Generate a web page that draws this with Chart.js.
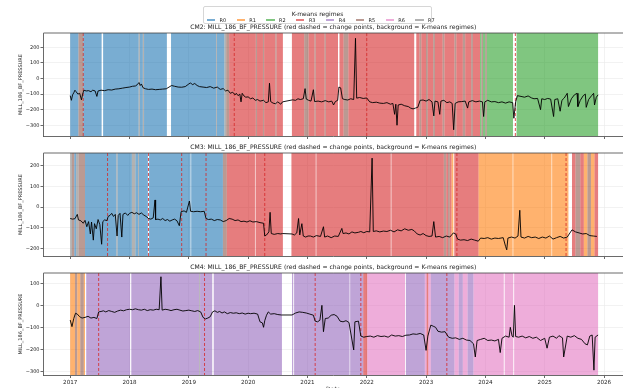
<!DOCTYPE html>
<html><head><meta charset="utf-8">
<script src="https://cdn.jsdelivr.net/npm/chart.js@4.4.1/dist/chart.umd.min.js"></script>
<style>
html,body{margin:0;padding:0;background:#fff;}
#wrap{position:relative;width:623px;height:388px;overflow:hidden;font-family:"DejaVu Sans",sans-serif;}
canvas{position:absolute;left:0;top:0;}
#legend{position:absolute;left:203px;top:6px;width:229px;height:18px;border:1px solid #d6d6d6;border-radius:2px;box-sizing:border-box;background:rgba(255,255,255,0.85);}
#legTitle{position:absolute;left:0;top:3px;width:100%;height:8px;line-height:8px;font-size:6px;text-align:center;color:#222;}
.sw{position:absolute;height:2px;width:8.3px;}
.lab{position:absolute;height:6px;line-height:6px;font-size:5px;color:#222;}
</style></head>
<body><div id="wrap">
<canvas id="c1" width="623" height="388"></canvas>
<canvas id="c2" width="623" height="388"></canvas>
<canvas id="c3" width="623" height="388"></canvas>
<div id="legend"><div id="legTitle">K-means regimes</div></div>
</div>
<script>
// ---------- data ----------
const regimeNames = ['R0','R1','R2','R3','R4','R5','R6','R7'];
const regimeColors = ['#1f77b4','#ff7f0e','#2ca02c','#d62728','#9467bd','#8c564b','#e377c2','#7f7f7f'];
const yearTicks = [2017,2018,2019,2020,2021,2022,2023,2024,2025,2026];
const seriesLabel = 'MILL_186_BF_PRESSURE';
const panelNames = ['CM2','CM3','CM4'];

const cm2Dates = [
2017.00,2017.02,2017.04,2017.06,2017.08,2017.10,2017.13,2017.16,2017.19,2017.21,
2017.23,2017.27,2017.31,2017.35,2017.38,2017.42,2017.45,2017.47,2017.52,2017.58,
2017.64,2017.70,2017.76,2017.82,2017.88,2017.94,2018.00,2018.05,2018.10,2018.13,
2018.16,2018.18,2018.20,2018.23,2018.27,2018.32,2018.38,2018.44,2018.50,2018.56,
2018.62,2018.71,2018.76,2018.82,2018.88,2018.94,2019.00,2019.03,2019.06,2019.10,
2019.14,2019.18,2019.24,2019.30,2019.36,2019.42,2019.48,2019.53,2019.58,2019.62,
2019.66,2019.70,2019.74,2019.78,2019.80,2019.83,2019.86,2019.88,2019.90,2019.93,
2019.96,2020.00,2020.04,2020.08,2020.12,2020.16,2020.20,2020.26,2020.30,2020.34,
2020.36,2020.38,2020.42,2020.46,2020.50,2020.55,2020.58,2020.75,2020.80,2020.84,
2020.88,2020.93,2020.96,2020.98,2021.02,2021.06,2021.10,2021.12,2021.18,2021.24,
2021.30,2021.36,2021.41,2021.44,2021.47,2021.51,2021.53,2021.56,2021.59,2021.63,
2021.68,2021.73,2021.78,2021.81,2021.83,2021.88,2021.94,2022.00,2022.05,2022.10,
2022.16,2022.22,2022.28,2022.34,2022.40,2022.44,2022.47,2022.49,2022.51,2022.53,
2022.58,2022.64,2022.70,2022.74,2022.78,2022.82,2022.86,2022.90,2022.95,2023.00,
2023.05,2023.10,2023.13,2023.15,2023.20,2023.23,2023.25,2023.30,2023.35,2023.40,
2023.44,2023.465,2023.49,2023.54,2023.60,2023.66,2023.70,2023.72,2023.78,2023.84,
2023.90,2023.95,2023.97,2023.99,2024.04,2024.10,2024.16,2024.22,2024.28,2024.34,
2024.40,2024.46,2024.48,2024.51,2024.54,2024.60,2024.66,2024.72,2024.78,2024.82,
2024.88,2024.93,2024.95,2025.00,2025.05,2025.10,2025.15,2025.17,2025.22,2025.26,
2025.29,2025.33,2025.38,2025.40,2025.45,2025.50,2025.545,2025.56,2025.60,2025.65,
2025.685,2025.70,2025.74,2025.79,2025.825,2025.84,2025.87,2025.90];
const cm2Values = [
-110,-140,-105,-92,-75,-85,-100,-95,-137,-100,
-75,-80,-78,-85,-75,-80,-115,-80,-75,-78,
-72,-74,-68,-66,-62,-58,-55,-50,-48,-40,
-26,-45,-35,-60,-66,-70,-68,-72,-70,-68,
-66,-45,-50,-55,-56,-52,-35,-28,-40,-32,
-45,-52,-55,-58,-52,-62,-55,-70,-65,-80,
-75,-95,-88,-105,-95,-110,-100,-150,-95,-112,
-120,-118,-130,-125,-140,-135,-145,-140,-155,-150,
-30,-148,-158,-162,-150,-165,-150,-137,-140,-130,
-135,-130,-65,-132,-140,-145,-72,-148,-145,-150,
-142,-150,-145,-170,-148,-140,-55,-60,-130,-135,
-138,-130,-135,258,-126,-122,-128,-125,-150,-155,
-152,-158,-160,-155,-165,-160,-230,-165,-300,-170,
-165,-175,-180,-190,-195,-190,-185,-140,-138,-145,
-135,-150,-240,-145,-150,-230,-145,-140,-155,-150,
-160,-329,-160,-150,-148,-145,-190,-150,-142,-150,
-145,-150,-244,-150,-140,-150,-148,-155,-150,-158,
-150,-155,-255,-150,-110,-115,-120,-112,-125,-130,
-128,-200,-130,-135,-128,-132,-244,-135,-130,-210,
-140,-125,-95,-180,-130,-105,-95,-180,-140,-110,
-100,-185,-135,-110,-95,-170,-120,-105];

const cm3Dates = [
2017.00,2017.04,2017.08,2017.12,2017.14,2017.18,2017.22,2017.25,2017.28,2017.31,
2017.34,2017.36,2017.39,2017.41,2017.44,2017.47,2017.50,2017.53,2017.55,2017.58,
2017.62,2017.64,2017.67,2017.70,2017.73,2017.76,2017.79,2017.81,2017.84,2017.87,
2017.89,2017.93,2017.97,2018.00,2018.04,2018.08,2018.12,2018.16,2018.20,2018.24,
2018.28,2018.32,2018.36,2018.40,2018.43,2018.44,2018.48,2018.52,2018.56,2018.60,
2018.64,2018.68,2018.72,2018.76,2018.80,2018.84,2018.87,2018.92,2018.96,2019.01,
2019.03,2019.08,2019.14,2019.20,2019.26,2019.29,2019.33,2019.38,2019.43,2019.48,
2019.53,2019.58,2019.63,2019.68,2019.73,2019.78,2019.83,2019.88,2019.93,2019.98,
2020.03,2020.08,2020.14,2020.20,2020.26,2020.28,2020.31,2020.35,2020.37,2020.39,
2020.44,2020.50,2020.55,2020.58,2020.74,2020.78,2020.82,2020.85,2020.87,2020.906,
2020.93,2020.97,2021.01,2021.05,2021.10,2021.15,2021.22,2021.27,2021.29,2021.34,
2021.40,2021.46,2021.52,2021.58,2021.60,2021.65,2021.70,2021.75,2021.80,2021.86,
2021.90,2021.95,2022.00,2022.05,2022.09,2022.11,2022.16,2022.22,2022.28,2022.34,
2022.40,2022.46,2022.52,2022.58,2022.64,2022.70,2022.76,2022.80,2022.85,2022.90,
2022.95,2023.00,2023.05,2023.10,2023.13,2023.16,2023.22,2023.28,2023.34,2023.40,
2023.46,2023.50,2023.53,2023.58,2023.64,2023.70,2023.76,2023.82,2023.88,2023.92,
2023.98,2024.04,2024.10,2024.16,2024.22,2024.30,2024.34,2024.36,2024.38,2024.44,
2024.50,2024.55,2024.58,2024.60,2024.66,2024.72,2024.78,2024.84,2024.90,2024.96,
2025.02,2025.08,2025.14,2025.20,2025.26,2025.32,2025.38,2025.46,2025.52,2025.58,
2025.64,2025.70,2025.76,2025.82,2025.88];
const cm3Values = [
-55,-58,-56,-35,-62,-66,-78,-64,-95,-70,
-130,-72,-160,-80,-105,-60,-85,-180,-70,-62,
-65,-45,-40,-30,-45,-35,-140,-40,-30,-145,
-35,-28,-40,-30,-25,-32,-27,-35,-28,-38,
-45,-55,-58,-52,35,-60,-58,-62,-55,-65,
-60,-68,-62,-58,-66,-90,-22,-18,-25,30,
-20,-22,-20,-22,-20,-55,-60,-58,-65,-60,
-62,-70,-65,-55,-58,-65,-62,-70,-68,-72,
-66,-72,-70,-75,-78,-140,-135,-120,-25,-128,
-132,-128,-130,-128,-130,-135,-125,-55,-135,-80,
-140,-145,-140,-140,-145,-138,-142,-95,-145,-140,
-148,-140,-142,-103,-128,-125,-130,-120,-125,-122,
-118,-124,-118,-120,238,-118,-115,-120,-116,-118,
-112,-120,-110,-115,-105,-112,-108,-115,-130,-135,
-128,-138,-142,-140,-70,-145,-142,-148,-140,-145,
-125,-130,-155,-160,-158,-162,-155,-160,-165,-150,
-152,-148,-155,-150,-152,-148,-190,-207,-150,-145,
-150,-140,-15,-145,-150,-142,-148,-145,-152,-145,
-150,-140,-155,-148,-142,-150,-145,-110,-120,-125,
-130,-128,-138,-140,-142];

const cm4Dates = [
2017.00,2017.03,2017.06,2017.09,2017.12,2017.16,2017.20,2017.25,2017.30,2017.35,
2017.40,2017.45,2017.48,2017.52,2017.56,2017.60,2017.65,2017.70,2017.75,2017.80,
2017.85,2017.90,2017.95,2018.00,2018.05,2018.10,2018.15,2018.20,2018.25,2018.30,
2018.35,2018.40,2018.45,2018.50,2018.53,2018.55,2018.60,2018.65,2018.70,2018.75,
2018.80,2018.85,2018.90,2018.95,2019.00,2019.05,2019.10,2019.15,2019.20,2019.24,
2019.28,2019.32,2019.36,2019.40,2019.44,2019.48,2019.52,2019.56,2019.60,2019.65,
2019.70,2019.75,2019.80,2019.85,2019.90,2019.95,2020.00,2020.04,2020.10,2020.16,
2020.20,2020.24,2020.26,2020.28,2020.31,2020.34,2020.38,2020.44,2020.50,2020.56,
2020.74,2020.80,2020.86,2020.92,2020.98,2021.04,2021.10,2021.13,2021.17,2021.21,
2021.244,2021.27,2021.30,2021.35,2021.40,2021.45,2021.50,2021.55,2021.60,2021.65,
2021.70,2021.78,2021.80,2021.86,2021.90,2021.95,2022.00,2022.06,2022.12,2022.18,
2022.24,2022.30,2022.36,2022.42,2022.48,2022.54,2022.60,2022.66,2022.72,2022.78,
2022.84,2022.90,2022.96,2023.00,2023.03,2023.08,2023.12,2023.16,2023.20,2023.26,
2023.32,2023.38,2023.44,2023.50,2023.56,2023.62,2023.68,2023.74,2023.80,2023.83,
2023.86,2023.92,2023.98,2024.04,2024.10,2024.16,2024.22,2024.25,2024.28,2024.34,
2024.40,2024.42,2024.45,2024.47,2024.49,2024.51,2024.56,2024.62,2024.68,2024.74,
2024.80,2024.86,2024.93,2025.00,2025.04,2025.08,2025.14,2025.20,2025.24,2025.30,
2025.32,2025.38,2025.44,2025.50,2025.56,2025.62,2025.68,2025.72,2025.76,2025.80,
2025.83,2025.85,2025.90];
const cm4Values = [
-67,-97,-60,-36,-40,-52,-58,-55,-50,-58,
-55,-60,-30,-28,-25,-30,-24,-28,-32,-26,
-22,-25,-20,-18,-20,-16,-20,-22,-18,-24,
-20,-22,-18,-20,130,-22,-18,-20,-24,-20,
-18,-22,-26,-24,-22,-25,-28,-24,-30,-55,
-62,-58,-52,-30,-25,-32,-28,-35,-30,-38,
-33,-36,-34,-38,-35,-40,-36,-38,-36,-40,
-75,-80,-100,-70,-45,-30,-40,-38,-42,-44,
-44,-35,-30,-32,-35,-40,-45,-72,-75,-68,
0,-120,-60,-58,-45,-42,-50,-72,-75,-70,
-78,-203,-75,-72,-140,-145,-142,-140,-145,-138,
-142,-140,-145,-135,-140,-138,-142,-136,-135,-130,
-132,-128,-135,-205,-140,-90,-95,-100,-118,-122,
-120,-145,-150,-148,-155,-150,-158,-160,-175,-235,
-160,-155,-150,-160,-158,-162,-155,-215,-150,-140,
-145,-100,-140,-145,0,-142,-145,-140,-148,-142,
-150,-145,-160,-150,-195,-145,-140,-150,-138,-148,
-235,-140,-145,-138,-150,-155,-175,-180,-140,-135,
-295,-145,-135];

// K-means regime spans: start, end, regime index
const cm2BandStart = [2017.00,2017.14,2017.22,2017.555,2018.155,2018.175,2018.225,2018.245,2018.70,2019.46,2019.475,2019.60,2019.63,2019.68,2020.13,2020.15,2020.25,2020.27,2020.46,2020.48,2020.738,2020.945,2021.02,2021.12,2021.14,2021.29,2021.31,2021.54,2021.61,2021.69,2022.835,2022.89,2022.92,2023.00,2023.03,2023.12,2023.15,2023.28,2023.31,2023.48,2023.51,2023.62,2023.66,2023.76,2023.79,2023.91,2023.935,2023.96,2024.00,2024.025,2024.525];
const cm2BandEnd   = [2017.14,2017.22,2017.53,2018.155,2018.175,2018.225,2018.245,2018.63,2019.46,2019.475,2019.60,2019.63,2019.68,2020.13,2020.15,2020.25,2020.27,2020.46,2020.48,2020.586,2020.945,2021.02,2021.12,2021.14,2021.29,2021.31,2021.515,2021.61,2021.69,2022.80,2022.89,2022.92,2023.00,2023.03,2023.12,2023.15,2023.28,2023.31,2023.48,2023.51,2023.62,2023.66,2023.76,2023.79,2023.91,2023.935,2023.96,2024.00,2024.025,2024.465,2025.90];
const cm2BandRegime= [0,5,0,0,7,0,7,0,0,7,0,7,5,3,5,3,5,3,5,3,3,5,3,5,3,5,3,3,5,3,3,5,3,5,3,5,3,5,3,5,3,5,3,5,3,2,5,2,5,2,2];

const cm3BandStart = [2017.00,2017.03,2017.07,2017.10,2017.14,2017.25,2017.78,2017.80,2018.04,2018.10,2018.145,2018.16,2018.33,2019.04,2019.575,2019.64,2020.125,2020.73,2021.15,2022.415,2023.30,2023.34,2023.37,2023.40,2023.43,2023.475,2023.886,2024.47,2025.125,2025.46,2025.52,2025.60,2025.66,2025.72,2025.78,2025.84];
const cm3BandEnd   = [2017.03,2017.07,2017.10,2017.14,2017.25,2017.78,2017.80,2018.04,2018.10,2018.145,2018.16,2018.31,2019.03,2019.575,2019.64,2020.115,2020.586,2021.14,2022.405,2023.30,2023.34,2023.37,2023.40,2023.43,2023.46,2023.886,2024.46,2025.115,2025.40,2025.52,2025.60,2025.66,2025.72,2025.78,2025.84,2025.90];
const cm3BandRegime= [7,5,0,7,5,0,7,0,7,0,7,0,0,0,5,3,3,3,3,3,5,3,5,3,1,3,1,1,1,3,5,3,1,5,1,3];

const cm4BandStart = [2017.00,2017.08,2017.12,2017.17,2017.23,2017.27,2018.03,2019.175,2019.19,2019.42,2020.74,2020.775,2021.72,2021.94,2022.01,2022.66,2022.98,2023.01,2023.04,2023.08,2023.48,2023.55,2023.62,2023.70,2023.80,2024.325,2024.485];
const cm4BandEnd   = [2017.08,2017.12,2017.17,2017.23,2017.25,2018.01,2019.175,2019.19,2019.395,2020.57,2020.76,2021.71,2021.94,2022.01,2022.645,2022.98,2023.01,2023.04,2023.08,2023.48,2023.55,2023.62,2023.70,2023.80,2024.31,2024.47,2025.90];
const cm4BandRegime= [1,5,1,5,1,4,4,7,4,4,4,4,4,3,6,4,6,3,6,4,6,4,6,4,6,6,6];

// change points (red dashed)
const cm2Changes = [2017.22,2019.766,2022.00,2024.505];
const cm3Changes = [2017.63,2018.32,2018.88,2019.29,2020.28,2023.52,2025.36];
const cm4Changes = [2017.48,2019.265,2021.13,2021.90,2023.35];

const cm2YTicks = [200,100,0,-100,-200,-300];
const cm3YTicks = [200,100,0,-100,-200];
const cm4YTicks = [100,0,-100,-200,-300];

// ---------- drawing ----------
const FONT = '"DejaVu Sans", sans-serif';
const bandAlpha = 0.6;
function rgba(hex, a){
  const n = parseInt(hex.slice(1),16);
  return `rgba(${(n>>16)&255},${(n>>8)&255},${n&255},${a})`;
}
const fmtTick = v => v < 0 ? '\u2212' + Math.abs(v) : String(v);

const regimePlugin = {
  id: 'regimes',
  beforeDatasetsDraw(chart, args, o){
    const {ctx, chartArea: a, scales: {x}} = chart;
    ctx.save();
    ctx.beginPath(); ctx.rect(a.left, a.top, a.right - a.left, a.bottom - a.top); ctx.clip();
    o.starts.forEach((s, i) => {
      const x0 = x.getPixelForValue(s), x1 = x.getPixelForValue(o.ends[i]);
      ctx.fillStyle = rgba(regimeColors[o.regimes[i]], bandAlpha);
      ctx.fillRect(x0, a.top, x1 - x0, a.bottom - a.top);
    });
    ctx.strokeStyle = 'rgba(214,39,40,0.9)';
    ctx.lineWidth = 0.9;
    ctx.setLineDash([3, 2]);
    o.changes.forEach(c => {
      const px = x.getPixelForValue(c);
      ctx.beginPath(); ctx.moveTo(px, a.top); ctx.lineTo(px, a.bottom); ctx.stroke();
    });
    ctx.restore();
  },
  afterDraw(chart, args, o){
    const {ctx, chartArea: a} = chart;
    ctx.save();
    ctx.strokeStyle = '#444'; ctx.lineWidth = 0.8;
    ctx.beginPath(); ctx.moveTo(a.left, a.top); ctx.lineTo(a.right, a.top); ctx.stroke();
    ctx.fillStyle = '#222';
    ctx.font = `6.1px ${FONT}`;
    ctx.textAlign = 'center'; ctx.textBaseline = 'middle';
    ctx.fillText(o.title, (a.left + a.right) / 2, a.top - 5.5);
    if (o.xlabel) {
      ctx.font = `6px ${FONT}`;
      ctx.textBaseline = 'top';
      ctx.fillText(o.xlabel, (a.left + a.right) / 2, 386.5);
    }
    ctx.restore();
  }
};

function makePanel(id, p){
  const data = p.dates.map((d, i) => ({x: d, y: p.values[i]}));
  new Chart(document.getElementById(id), {
    type: 'line',
    data: {datasets: [{data, borderColor: '#000', borderWidth: 0.9, pointRadius: 0, tension: 0, fill: false}]},
    options: {
      responsive: false, animation: false, devicePixelRatio: 1,
      layout: {padding: {top: p.top, bottom: 388 - p.bottom - p.xh, left: 0, right: 0}},
      plugins: {
        legend: {display: false}, tooltip: {enabled: false}, title: {display: false},
        regimes: {starts: p.bs, ends: p.be, regimes: p.br, changes: p.cp, title: p.title, xlabel: p.xlabel}
      },
      scales: {
        x: {
          type: 'linear', min: 2016.55, max: 2026.32,
          afterBuildTicks: s => { s.ticks = yearTicks.map(v => ({value: v})); },
          afterFit: s => { s.height = p.xh; },
          ticks: {display: p.showX, callback: v => String(v), font: {family: FONT, size: 5.6}, color: '#222', padding: 1, maxRotation: 0, autoSkip: false},
          grid: {color: '#e9e9e9', lineWidth: 0.6, tickLength: 3, tickColor: '#444', tickWidth: 0.8},
          border: {color: '#444', width: 0.8}
        },
        y: {
          min: p.ymin, max: p.ymax,
          afterBuildTicks: s => { s.ticks = p.yticks.map(v => ({value: v})); },
          afterFit: s => { s.width = 43.5; },
          ticks: {callback: v => fmtTick(v), font: {family: FONT, size: 5}, color: '#222', padding: 1},
          title: {display: true, text: seriesLabel, font: {family: FONT, size: 5}, color: '#222', padding: {top: 17.5, bottom: 0}},
          grid: {color: '#e9e9e9', lineWidth: 0.6, tickLength: 3, tickColor: '#444', tickWidth: 0.8},
          border: {color: '#444', width: 0.8}
        }
      }
    },
    plugins: [regimePlugin]
  });
}

const titleTail = ': ' + seriesLabel + ' (red dashed = change points, background = K-means regimes)';
makePanel('c1', {dates: cm2Dates, values: cm2Values, bs: cm2BandStart, be: cm2BandEnd, br: cm2BandRegime, cp: cm2Changes,
  yticks: cm2YTicks, ymin: -369, ymax: 292, top: 33, bottom: 136, xh: 4, showX: false, title: panelNames[0] + titleTail});
makePanel('c2', {dates: cm3Dates, values: cm3Values, bs: cm3BandStart, be: cm3BandEnd, br: cm3BandRegime, cp: cm3Changes,
  yticks: cm3YTicks, ymin: -237, ymax: 263, top: 153, bottom: 256, xh: 4, showX: false, title: panelNames[1] + titleTail});
makePanel('c3', {dates: cm4Dates, values: cm4Values, bs: cm4BandStart, be: cm4BandEnd, br: cm4BandRegime, cp: cm4Changes,
  yticks: cm4YTicks, ymin: -317, ymax: 147, top: 273, bottom: 375, xh: 13, showX: true, title: panelNames[2] + titleTail, xlabel: 'Date'});

// legend
const leg = document.getElementById('legend');
regimeNames.forEach((name, i) => {
  const sw = document.createElement('div');
  sw.className = 'sw';
  sw.style.left = (2.7 + i * 29.8) + 'px';
  sw.style.top = '12px';
  sw.style.background = rgba(regimeColors[i], bandAlpha);
  leg.appendChild(sw);
  const lb = document.createElement('div');
  lb.className = 'lab';
  lb.style.left = (15.5 + i * 29.8) + 'px';
  lb.style.top = '10px';
  lb.textContent = name;
  leg.appendChild(lb);
});
</script>
</body></html>
